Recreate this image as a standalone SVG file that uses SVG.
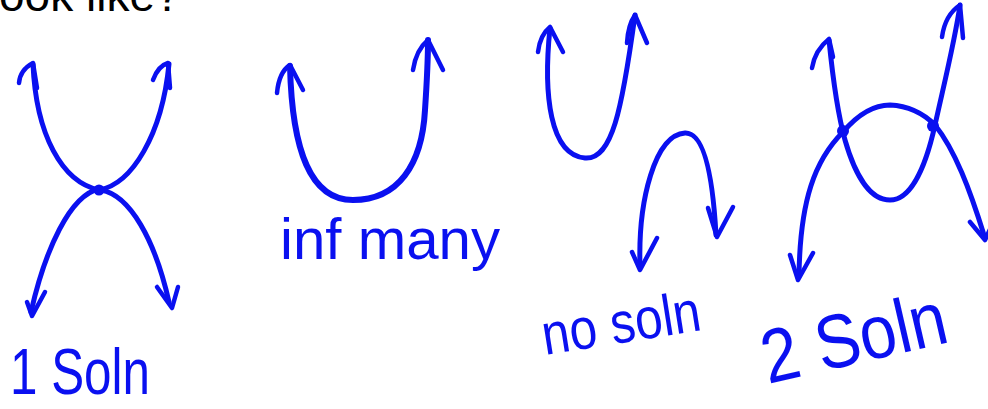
<svg xmlns="http://www.w3.org/2000/svg" width="988" height="409" viewBox="0 0 988 409">
<style>
.c{fill:none;stroke:#0a10f0;stroke-width:5;stroke-linecap:round;stroke-linejoin:round}
.a{fill:none;stroke:#0a10f0;stroke-width:4.5;stroke-linecap:round;stroke-linejoin:round}
.d{fill:#0a10f0}
.h{fill:#0a10f0;font-family:"Liberation Sans",Arial,sans-serif}
</style>
<rect width="988" height="409" fill="#fff"/>
<text x="-1" y="11" font-family="Liberation Sans, Arial, sans-serif" font-size="46" fill="#000">ook like?</text>

<g id="one-solution">
<path class="c" d="M33,64 C36,135 62,182 99,190 C132,184 162,135 169,64"/>
<path class="c" d="M99,189 C70,195 45,250 31,312"/>
<path class="c" d="M101,190 C130,195 155,240 169,302"/>
<path class="a" d="M19,83 Q20,70 33,63 L37,88"/>
<path class="a" d="M153,80 Q158,66 168,63 L170,88"/>
<path class="a" d="M27,302 L32,316 L45,292"/>
<path class="a" d="M157,287 L172,308 L178,287"/>
<circle class="d" cx="99" cy="190" r="5.5"/>
<text class="h" x="10" y="394" font-size="64" textLength="140" lengthAdjust="spacingAndGlyphs">1 Soln</text>
</g>

<g id="inf-many">
<path class="c" style="stroke-width:6" d="M290,66 C292,150 310,200 353,200 C398,200 422,165 425,110 C427,80 428,60 428,40"/>
<path class="a" d="M277,93 Q279,72 290,65 L303,90"/>
<path class="a" d="M413,70 Q416,50 428,40 L443,70"/>
<text class="h" x="280" y="259" font-size="58" textLength="220" lengthAdjust="spacingAndGlyphs">inf many</text>
</g>

<g id="no-solution">
<path class="c" d="M550,28 C543,95 550,155 585,158 C612,160 622,110 635,15"/>
<path class="a" d="M538,52 Q540,35 550,27 L563,52"/>
<path class="a" d="M627,43 Q628,25 635,15 L647,43"/>
<path class="c" d="M640,266 C638,200 655,135 685,133 C705,132 713,180 716,235"/>
<path class="a" d="M632,252 L640,270 L657,238"/>
<path class="a" d="M708,208 L717,237 L733,207"/>
<text class="h" x="545" y="355" font-size="58" textLength="160" lengthAdjust="spacingAndGlyphs" transform="rotate(-9 545 355)">no soln</text>
</g>

<g id="two-solutions">
<path class="c" d="M829,40 C833,80 838,115 845,140 C855,175 870,200 890,200 C910,200 925,170 935,125 C945,80 955,40 960,5"/>
<path class="c" d="M799,276 C800,200 815,160 843,132 C860,112 875,105 890,105 C910,106 925,115 935,125 C955,150 970,190 984,235"/>
<path class="a" d="M812,68 Q815,50 829,39 L833,57"/>
<path class="a" d="M942,37 Q945,15 960,5 L963,38"/>
<path class="a" d="M790,255 L798,280 L813,253"/>
<path class="a" d="M970,222 L985,240 L992,225"/>
<circle class="d" cx="843" cy="131" r="6"/>
<circle class="d" cx="933" cy="126" r="6"/>
<text class="h" x="768" y="384" font-size="76" textLength="188" lengthAdjust="spacingAndGlyphs" transform="rotate(-13 768 384)">2 Soln</text>
</g>
</svg>
